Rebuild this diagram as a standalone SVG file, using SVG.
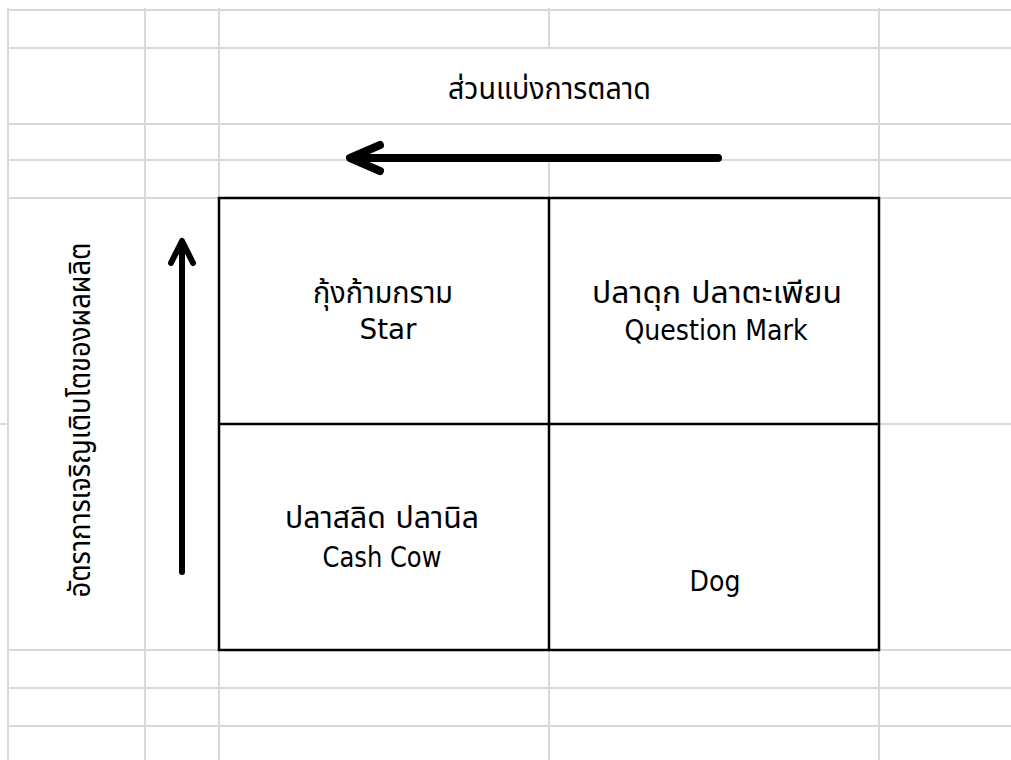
<svg xmlns="http://www.w3.org/2000/svg" width="1011" height="760" viewBox="0 0 1011 760">
<style>
.g{stroke:#d9d9d9;stroke-width:2;fill:none}
.b{stroke:#000;stroke-width:2.5;fill:none}
.t{font-family:Tahoma,"DejaVu Sans","Noto Sans Thai","Noto Sans",sans-serif;font-size:25px;fill:#000;text-anchor:middle}
.th{font-size:30px}
.la{font-family:"DejaVu Sans Condensed","DejaVu Sans",sans-serif;font-stretch:condensed;font-size:28px}
.arr{stroke:#000;fill:none;stroke-linecap:round;stroke-linejoin:round}
</style>
<rect width="1011" height="760" fill="#fff"/>
<g id="grid">
<path class="g" d="M7 10H1011M7 48H1011M7 124H1011M7 160H1011M7 198H1011M879 424H1011M0 424H9M7 650H1011M7 688H1011M7 726H1011"/>
<path class="g" d="M8 8V760M145 8V760M219 8V760M879 8V760M549 8V48M549 160V760"/>
</g>
<g id="title">
<text class="t th" x="549.5" y="99" textLength="203" lengthAdjust="spacingAndGlyphs">ส่วนแบ่งการตลาด</text>
</g>
<g id="yaxis">
<text class="t th" transform="translate(90 420) rotate(-90)" textLength="355" lengthAdjust="spacingAndGlyphs">อัตราการเจริญเติบโตของผลผลิต</text>
</g>
<g id="matrix">
<rect class="b" x="219" y="198" width="660" height="452" fill="#fff"/>
<path class="b" d="M549 198V650M219 424H879"/>
</g>
<g id="star">
<text class="t th" x="383" y="303" textLength="140" lengthAdjust="spacingAndGlyphs">กุ้งก้ามกราม</text>
<text class="t la" x="388" y="339" textLength="57" lengthAdjust="spacingAndGlyphs">Star</text>
</g>
<g id="question">
<text class="t th" x="717" y="303" textLength="250" lengthAdjust="spacingAndGlyphs">ปลาดุก ปลาตะเพียน</text>
<text class="t la" x="716" y="340" textLength="183" lengthAdjust="spacingAndGlyphs">Question Mark</text>
</g>
<g id="cashcow">
<text class="t th" x="382" y="528" textLength="194" lengthAdjust="spacingAndGlyphs">ปลาสลิด ปลานิล</text>
<text class="t la" x="382" y="567" textLength="119" lengthAdjust="spacingAndGlyphs">Cash Cow</text>
</g>
<g id="dog">
<text class="t la" x="715" y="591">Dog</text>
</g>
<g id="connectors">
<path class="arr" stroke-width="8" d="M718 158H352"/>
<path class="arr" stroke-width="8" d="M380 145L350 158L380 171"/>
<path class="arr" stroke-width="6" d="M182 572V243"/>
<path class="arr" stroke-width="6" d="M171 263L182 241L193 263"/>
</g>
</svg>
